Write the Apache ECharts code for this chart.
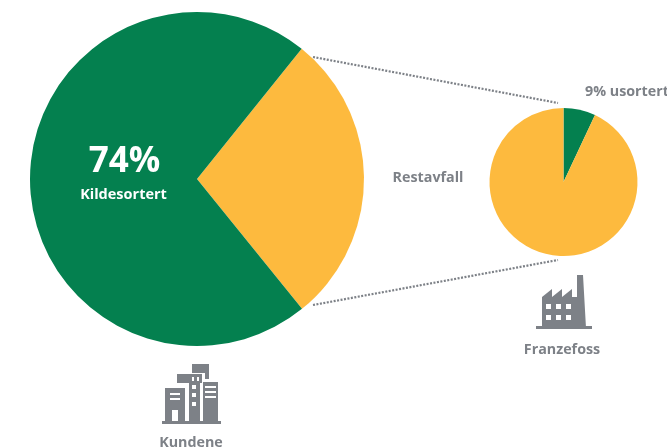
<!DOCTYPE html>
<html><head><meta charset="utf-8">
<style>html,body{margin:0;padding:0;background:#fff}#c{width:667px;height:447px}</style>
<script src="https://cdn.jsdelivr.net/npm/echarts@6/dist/echarts.min.js"></script></head>
<body><div id="c"></div>
<script>
const mainNames = ['Restavfall', 'Kildesortert'];
const mainValues = [28.4, 71.6];
const subNames = ['9% usortert', 'Restavfall'];
const subValues = [7, 93];
const GREEN = '#04804f', YELLOW = '#fdba3e', GREY = '#7d8187';
const FONT = '"Open Sans","Noto Sans",sans-serif';

function txt(x, y, text, size, fill, align) {
  return { type: 'text', x, y, z: 10, silent: true, style: { text, fontFamily: FONT, fontWeight: 'bold', fontSize: size, fill, align: align || 'center', verticalAlign: 'middle' } };
}
function rect(x, y, w, h, fill) {
  return { type: 'rect', z: 10, shape: { x, y, width: w, height: h }, silent: true, style: { fill: fill || GREY } };
}
function dotted(x1, y1, x2, y2) {
  return { type: 'line', z: 10, shape: { x1, y1, x2, y2 }, silent: true, style: { stroke: '#7d8187', lineWidth: 2.2, lineDash: [2, 1.5] } };
}
const buildingIcon = [
  rect(192, 364, 17, 9), rect(205, 364, 4, 15),
  rect(177, 374, 25, 9), rect(189, 374, 11, 48),
  rect(165, 388, 20, 34), rect(203, 382, 15, 40), rect(162, 421, 59, 3),
  rect(170, 393, 10, 2, '#fff'), rect(170, 398, 10, 2, '#fff'), rect(172, 410, 6, 11, '#fff'),
  rect(192, 377, 2, 4, '#fff'), rect(197, 377, 2, 4, '#fff'),
  rect(192, 385, 4, 4, '#fff'), rect(192, 393, 4, 4, '#fff'), rect(192, 402, 4, 4, '#fff'),
  rect(205, 386, 11, 2, '#fff'), rect(205, 391, 11, 2, '#fff'), rect(205, 396, 11, 2, '#fff')
];
const factoryIcon = [
  { type: 'polygon', z: 10, silent: true, shape: { points: [[542, 328], [542, 297], [552, 289], [552, 297], [562, 289], [562, 297], [572, 289], [572, 297], [577, 297], [577, 275], [583, 275], [586, 328]] }, style: { fill: GREY } },
  rect(536, 326, 56, 3)
];
[546, 556, 566].forEach(x => [304, 315].forEach(y => factoryIcon.push(rect(x, y, 5, 5, '#fff'))));

function pie(center, radius, startAngle, names, values, colors) {
  return {
    type: 'pie', center, radius, startAngle, clockwise: true, silent: true, animation: false,
    label: { show: false }, labelLine: { show: false },
    data: names.map((name, i) => ({ name, value: values[i], itemStyle: { color: colors[i] } }))
  };
}
const chart = echarts.init(document.getElementById('c'), null, { renderer: 'canvas' });
chart.setOption({
  animation: false,
  backgroundColor: '#fff',
  series: [
    pie([197, 179], 167, 51.2, mainNames, mainValues, [YELLOW, GREEN]),
    pie([563.5, 182], 74, 90, subNames, subValues, [GREEN, YELLOW])
  ],
  graphic: { elements: [
    dotted(313, 57, 558, 103), dotted(313, 305, 558, 260),
    txt(124.5, 162, '74%', 35, '#fff'), txt(123.5, 195, 'Kildesortert', 14.5, '#fff'),
    txt(428, 178, 'Restavfall', 14.3, GREY), txt(585, 92, '9% usortert', 14.3, GREY, 'left'),
    txt(562, 350, 'Franzefoss', 14.3, GREY), txt(191, 443, 'Kundene', 14.3, GREY)
  ].concat(buildingIcon, factoryIcon) }
});
</script></body></html>
